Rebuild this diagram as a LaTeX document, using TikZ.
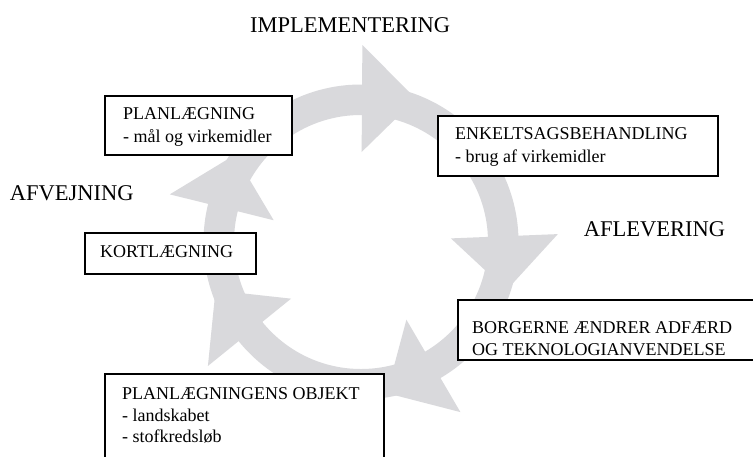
\documentclass[tikz,border=0pt]{standalone}
\usepackage{fontspec}
\setmainfont{Liberation Serif}
\usetikzlibrary{calc}
\definecolor{ringgray}{RGB}{217,217,220}
\begin{document}
\begin{tikzpicture}[x=1pt,y=-1pt,
  box/.style={draw=black, line width=1.6pt, fill=white, rectangle, inner sep=0pt, anchor=north west},
  txt/.style={anchor=base west, inner sep=0pt, font=\fontsize{18}{22}\selectfont},
  head/.style={anchor=base west, inner sep=0pt, font=\fontsize{22.5}{27}\selectfont}]
\clip (0,0) rectangle (753,456);
\fill[white] (0,0) rectangle (753,456);
\coordinate (C) at (361,242);
% ring with arrowheads
\fill[ringgray, even odd rule] (C) circle[radius=157.5pt] (C) circle[radius=127pt];
\foreach \a in {-89.6,-2.3,59.7,141,194}{
  \fill[ringgray] ($(C)+(\a:197)$) -- ($(C)+(\a:90)$) -- ($(C)+(\a:143.5)+(\a+90:54)$) -- cycle;
}
% headings
\node[head] (impl) at (250,32) {IMPLEMENTERING};
\node[head] (afv) at (9.6,200) {AFVEJNING};
\node[head] (afl) at (583.6,236) {AFLEVERING};
% boxes
\node[box, minimum width=187pt, minimum height=59pt] (plan) at (104,95) {};
\node[txt] (plan1) at (123,119) {PLANLÆGNING};
\node[txt] (plan2) at (123,142) {- mål og virkemidler};
\node[box, minimum width=280pt, minimum height=60pt] (enk) at (437,115) {};
\node[txt] (enk1) at (455,139) {ENKELTSAGSBEHANDLING};
\node[txt] (enk2) at (455,162) {- brug af virkemidler};
\node[box, minimum width=171pt, minimum height=41pt] (kort) at (84,232) {};
\node[txt] (kort1) at (100,257) {KORTLÆGNING};
\node[box, minimum width=310pt, minimum height=60pt] (borg) at (457,299) {};
\node[txt] (borg1) at (472,333) {BORGERNE ÆNDRER ADFÆRD};
\node[txt] (borg2) at (472,355) {OG TEKNOLOGIANVENDELSE};
\node[box, minimum width=279pt, minimum height=100pt] (obj) at (104,373) {};
\node[txt] (obj1) at (122,399) {PLANLÆGNINGENS OBJEKT};
\node[txt] (obj2) at (122,421) {- landskabet};
\node[txt] (obj3) at (122,442) {- stofkredsløb};
\end{tikzpicture}
\end{document}
